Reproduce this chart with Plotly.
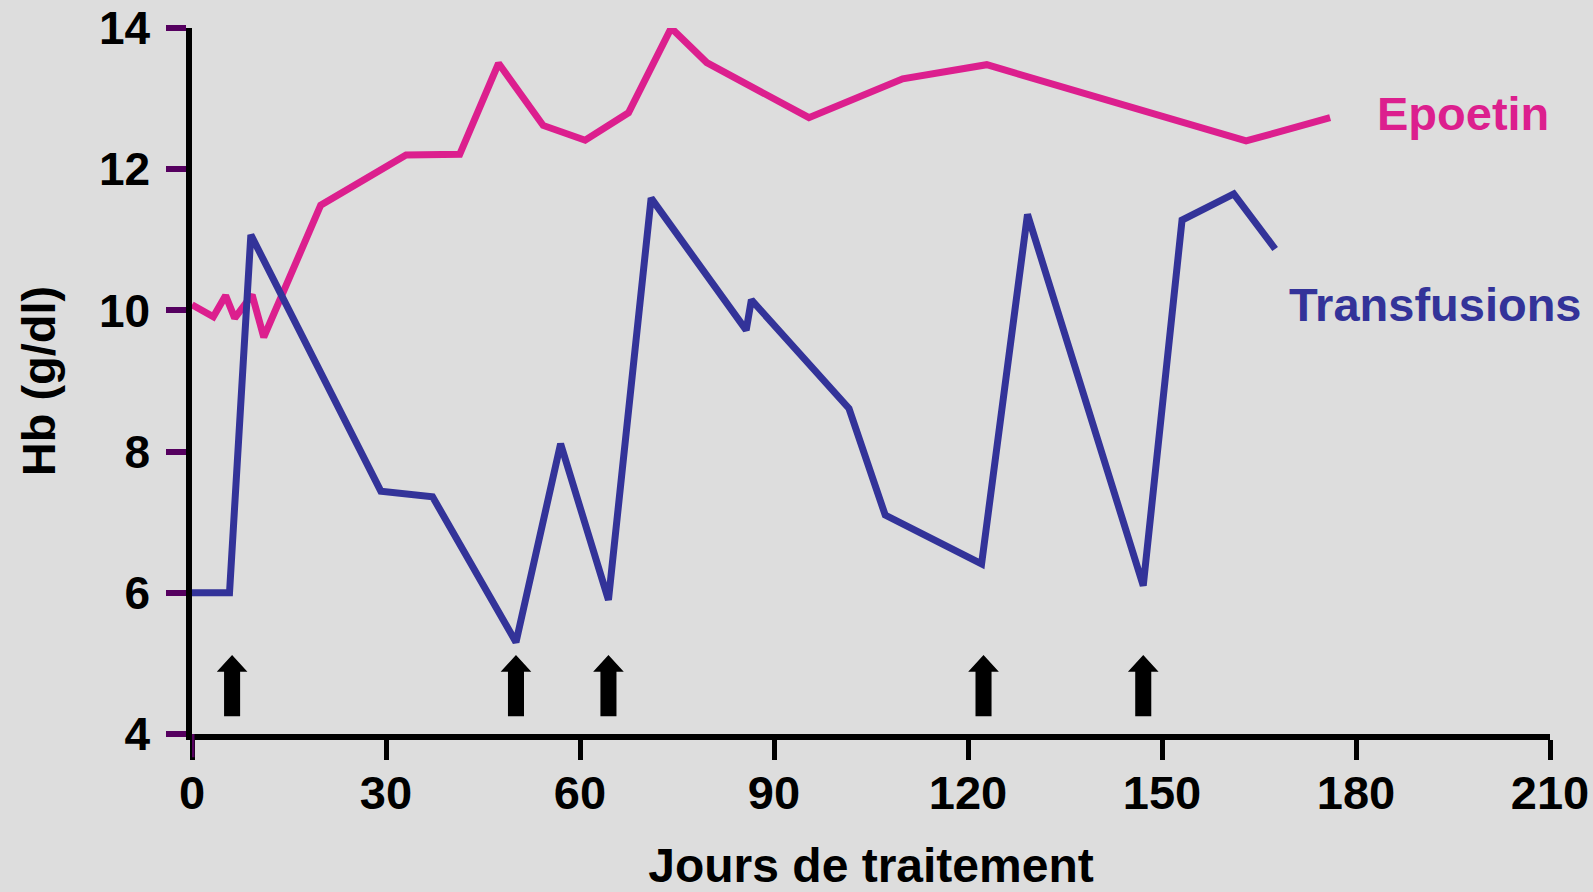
import plotly.graph_objects as go

# ---- data ----
epo_days = [0, 3.3, 5.2, 6.6, 9.3, 11.1, 19.9, 33.1, 41.4, 47.4, 54.3, 60.8, 67.5, 74.1, 79.6, 95.4, 109.9, 122.9, 163.0, 176.0]
epo_hb = [10.08, 9.91, 10.21, 9.89, 10.22, 9.62, 11.49, 12.2, 12.21, 13.50, 12.62, 12.41, 12.80, 14.0, 13.51, 12.73, 13.28, 13.48, 12.40, 12.73]

tr_days = [0, 5.8, 9.1, 29.2, 37.2, 50.1, 57.0, 64.4, 71.0, 85.7, 86.5, 101.6, 107.2, 122.1, 129.2, 147.1, 153.1, 161.1, 167.5]
tr_hb = [6.0, 6.0, 11.07, 7.44, 7.36, 5.30, 8.11, 5.90, 11.59, 9.72, 10.15, 8.61, 7.10, 6.41, 11.36, 6.10, 11.28, 11.65, 10.87]

transfusion_events = [6.2, 50.1, 64.4, 122.4, 147.1]

x_ticks = [0, 30, 60, 90, 120, 150, 180, 210]
y_ticks = [4, 6, 8, 10, 12, 14]

PINK = "#DC1F8E"
BLUE = "#333399"
PURPLE = "#55005F"
BG = "#DDDDDD"
FONT = "Liberation Sans, Arial, sans-serif"

fig = go.Figure()
fig.add_trace(go.Scatter(x=epo_days, y=epo_hb, mode="lines", name="Epoetin",
                         line=dict(color=PINK, width=7), showlegend=False, cliponaxis=False))
fig.add_trace(go.Scatter(x=tr_days, y=tr_hb, mode="lines", name="Transfusions",
                         line=dict(color=BLUE, width=7), showlegend=False))

# arrows marking transfusions
tip, head_base, bottom = 5.12, 4.88, 4.25
shaft_hw, head_hw = 1.24, 2.37
for d in transfusion_events:
    path = (f"M {d-shaft_hw},{bottom} L {d-shaft_hw},{head_base} L {d-head_hw},{head_base} "
            f"L {d},{tip} L {d+head_hw},{head_base} L {d+shaft_hw},{head_base} L {d+shaft_hw},{bottom} Z")
    fig.add_shape(type="path", path=path, xref="x", yref="y",
                  fillcolor="black", line=dict(color="black", width=0))

# the x tick at the origin is drawn in the y-axis tick colour
fig.add_shape(type="line", xref="x", yref="paper", x0=x_ticks[0], x1=x_ticks[0], y0=0, y1=-0.033,
              line=dict(color=PURPLE, width=5))

fig.add_annotation(x=182.9, y=12.79, text="<b>Epoetin</b>", showarrow=False,
                   xanchor="left", yanchor="middle", font=dict(family=FONT, size=47, color=PINK))
fig.add_annotation(x=169.4, y=10.08, text="<b>Transfusions</b>", showarrow=False,
                   xanchor="left", yanchor="middle", font=dict(family=FONT, size=47, color=BLUE))

fig.update_layout(
    width=1593, height=892,
    margin=dict(l=192, r=43, t=28, b=158),
    paper_bgcolor=BG, plot_bgcolor=BG,
    font=dict(family=FONT, color="black"),
)
fig.update_xaxes(range=[0, 210], tickvals=x_ticks, ticktext=[f"<b>{v}</b>" for v in x_ticks],
                 showgrid=False, zeroline=False, showline=True, linecolor="black", linewidth=5.5,
                 ticks="outside", ticklen=20, tickwidth=5, tickcolor="black", automargin=False,
                 tickfont=dict(family=FONT, size=47, color="black"), ticklabelstandoff=-7,
                 title=dict(text="<b>Jours de traitement</b>", font=dict(family=FONT, size=48, color="black"), standoff=51))
fig.update_yaxes(range=[4, 14], tickvals=y_ticks, ticktext=[f"<b>{v}</b>" for v in y_ticks],
                 showgrid=False, zeroline=False, showline=True, linecolor="black", linewidth=5.5,
                 ticks="outside", ticklen=20, tickwidth=5.5, tickcolor=PURPLE, automargin=False,
                 tickfont=dict(family=FONT, size=46, color="black"), ticklabelstandoff=7,
                 title=dict(text="<b>Hb (g/dl)</b>", font=dict(family=FONT, size=47, color="black"), standoff=30))

fig.write_html("out.html", config={"displayModeBar": False},
               post_script="document.body.style.margin='0';document.body.style.background='#DDDDDD';document.body.style.overflow='hidden';")
